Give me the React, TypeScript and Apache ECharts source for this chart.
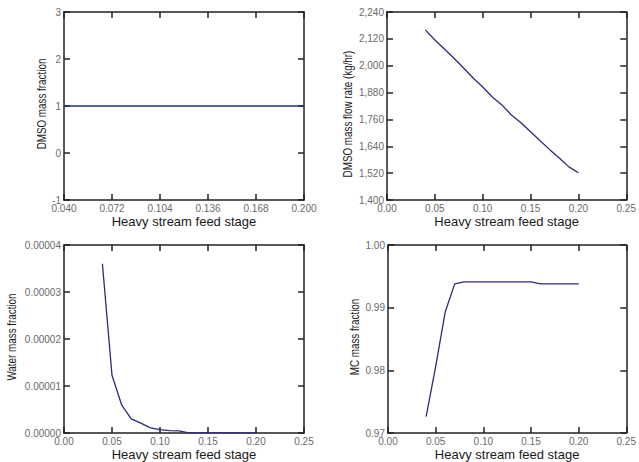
import React, { useEffect, useRef } from "react";
import * as echarts from "echarts";

const stages = [0.04, 0.05, 0.06, 0.07, 0.08, 0.09, 0.1, 0.11, 0.12, 0.13, 0.14, 0.15, 0.16, 0.17, 0.18, 0.19, 0.2];
const dmsoFraction = [1, 1, 1, 1, 1, 1, 1, 1, 1, 1, 1, 1, 1, 1, 1, 1, 1];
const dmsoFlow = [2160, 2115, 2075, 2033, 1990, 1945, 1905, 1860, 1825, 1780, 1745, 1705, 1665, 1625, 1588, 1548, 1522];
const waterFraction = [
  0.000036, 0.0000123, 0.000006, 0.000003, 0.0000021, 0.0000011, 0.0000007, 0.0000005, 0.00000045,
  0.00000005, 0.00000003, 0.00000003, 0.00000003, 0.00000003, 0.00000003, 0.00000003, 0.00000003,
];
const mcFraction = [
  0.9726, 0.9806, 0.9893, 0.9938, 0.9941, 0.9941, 0.9941, 0.9941, 0.9941, 0.9941, 0.9941, 0.9941,
  0.9938, 0.9938, 0.9938, 0.9938, 0.9938,
];

const xTitle = "Heavy stream feed stage";
const yTitles = ["DMSO mass fraction", "DMSO mass flow rate (kg/hr)", "Water mass fraction", "MC mass fraction"];

const AXIS_COLOR = "#222";
const LABEL_COLOR = "#6a6a6a";
const LINE_COLOR = "#2b2b7c";

export default function App() {
  const ref = useRef<HTMLDivElement>(null);
  useEffect(() => {
    if (!ref.current) return;
    const chart = echarts.init(ref.current, null, { renderer: "svg" });

    const grids = [
      { left: 64, top: 12, width: 240, height: 188 },
      { left: 387, top: 12, width: 242, height: 188 },
      { left: 64, top: 245, width: 240, height: 188 },
      { left: 388, top: 245, width: 241, height: 188 },
    ];
    const xCfg = [
      { min: 0.04, max: 0.2, interval: 0.032, fmt: (v: number) => v.toFixed(3) },
      { min: 0, max: 0.25, interval: 0.05, fmt: (v: number) => v.toFixed(2) },
      { min: 0, max: 0.25, interval: 0.05, fmt: (v: number) => v.toFixed(2) },
      { min: 0, max: 0.25, interval: 0.05, fmt: (v: number) => v.toFixed(2) },
    ];
    const yCfg = [
      { min: -1, max: 3, interval: 1, fmt: (v: number) => String(v) },
      { min: 1400, max: 2240, interval: 120, fmt: (v: number) => v.toLocaleString("en-US") },
      { min: 0, max: 0.00004, interval: 0.00001, fmt: (v: number) => v.toFixed(5) },
      { min: 0.97, max: 1.0, interval: 0.01, fmt: (v: number) => v.toFixed(2) },
    ];
    const titlePos = [
      [42, 104],
      [348, 114],
      [12, 337],
      [355, 337],
    ];
    const data = [dmsoFraction, dmsoFlow, waterFraction, mcFraction];

    const axisLine = { show: true, onZero: false, lineStyle: { color: AXIS_COLOR, width: 1.5 } };
    const axisTick = { show: true, inside: true, length: 6, lineStyle: { color: AXIS_COLOR, width: 1.5 } };

    const xAxis: any[] = [];
    const yAxis: any[] = [];
    for (let i = 0; i < 4; i++) {
      xAxis.push({
        type: "value",
        gridIndex: i,
        position: "bottom",
        min: xCfg[i].min,
        max: xCfg[i].max,
        interval: xCfg[i].interval,
        splitLine: { show: false },
        axisLine,
        axisTick,
        axisLabel: { color: LABEL_COLOR, fontSize: 10, fontFamily: "Liberation Sans, Arial", margin: 3, formatter: xCfg[i].fmt },
        name: xTitle,
        nameLocation: "middle",
        nameGap: 15,
        nameTextStyle: { color: "#1a1a1a", fontSize: 13, fontFamily: "Liberation Sans, Arial" },
      });
    }
    for (let i = 0; i < 4; i++) {
      xAxis.push({
        type: "value",
        gridIndex: i,
        position: "top",
        min: xCfg[i].min,
        max: xCfg[i].max,
        interval: xCfg[i].interval,
        splitLine: { show: false },
        axisLine,
        axisTick,
        axisLabel: { show: false },
      });
    }
    for (let i = 0; i < 4; i++) {
      yAxis.push({
        type: "value",
        gridIndex: i,
        position: "left",
        min: yCfg[i].min,
        max: yCfg[i].max,
        interval: yCfg[i].interval,
        splitLine: { show: false },
        axisLine,
        axisTick,
        axisLabel: { color: LABEL_COLOR, fontSize: 10, fontFamily: "Liberation Sans, Arial", margin: 3, formatter: yCfg[i].fmt },
      });
    }
    for (let i = 0; i < 4; i++) {
      yAxis.push({
        type: "value",
        gridIndex: i,
        position: "right",
        min: yCfg[i].min,
        max: yCfg[i].max,
        interval: yCfg[i].interval,
        splitLine: { show: false },
        axisLine,
        axisTick,
        axisLabel: { show: false },
      });
    }

    const series = data.map((arr, i) => ({
      type: "line",
      xAxisIndex: i,
      yAxisIndex: i,
      data: stages.map((s, k) => [s, arr[k]]),
      showSymbol: false,
      symbol: "none",
      lineStyle: { color: LINE_COLOR, width: 1.3 },
    }));

    const graphic = yTitles.map((t, i) => ({
      type: "text",
      x: titlePos[i][0],
      y: titlePos[i][1],
      rotation: Math.PI / 2,
      scaleX: 0.82,
      style: {
        text: t,
        font: "12px 'Liberation Sans', Arial",
        fill: "#1a1a1a",
        align: "center",
        verticalAlign: "middle",
      },
    }));

    chart.setOption({
      animation: false,
      backgroundColor: "#fff",
      grid: grids,
      xAxis,
      yAxis,
      series,
      graphic,
    });
    return () => chart.dispose();
  }, []);
  return <div ref={ref} style={{ position: "fixed", left: 0, top: 0, width: 639, height: 462 }} />;
}
